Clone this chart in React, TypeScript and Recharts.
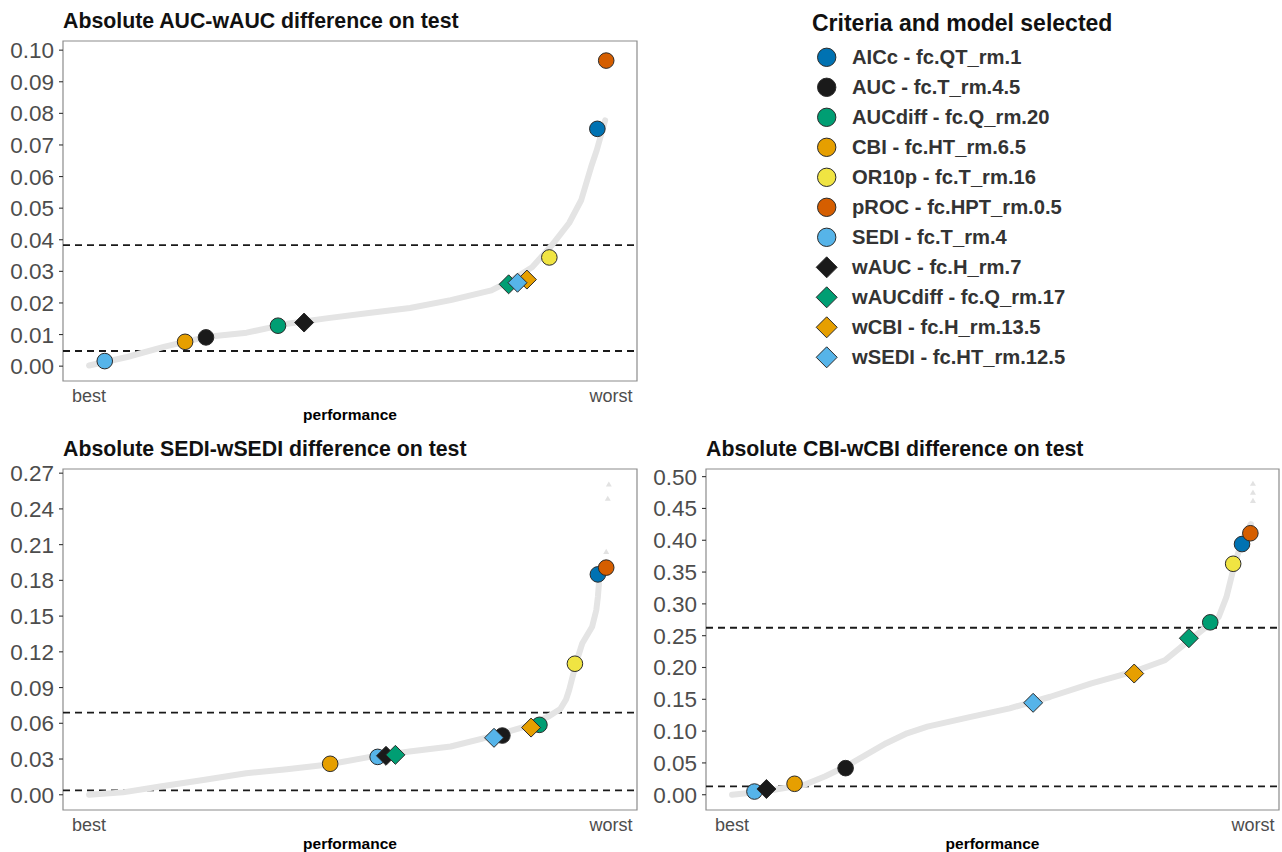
import { ScatterChart, Scatter, XAxis, YAxis, ReferenceLine, ReferenceArea } from 'recharts';

const FONT = '"Liberation Sans", Arial, Helvetica, sans-serif';

// legend order = drawing order
const criteriaLabels = [
  'AICc - fc.QT_rm.1',
  'AUC - fc.T_rm.4.5',
  'AUCdiff - fc.Q_rm.20',
  'CBI - fc.HT_rm.6.5',
  'OR10p - fc.T_rm.16',
  'pROC - fc.HPT_rm.0.5',
  'SEDI - fc.T_rm.4',
  'wAUC - fc.H_rm.7',
  'wAUCdiff - fc.Q_rm.17',
  'wCBI - fc.H_rm.13.5',
  'wSEDI - fc.HT_rm.12.5',
];
const criteriaColors = ['#0072B2', '#1a1a1a', '#009E73', '#E69F00', '#F0E442', '#D55E00', '#56B4E9', '#1a1a1a', '#009E73', '#E69F00', '#56B4E9'];
const criteriaShapes = ['circle', 'circle', 'circle', 'circle', 'circle', 'circle', 'circle', 'diamond', 'diamond', 'diamond', 'diamond'];

// AUC-wAUC panel
const aucRanks = [97.4, 22.4, 36.2, 18.4, 88.2, 99.1, 3.0, 41.2, 80.4, 83.9, 82.1];
const aucValues = [0.0751, 0.0091, 0.0128, 0.0077, 0.0344, 0.0967, 0.0016, 0.0138, 0.0259, 0.0274, 0.0264];
const aucCurveRanks = [0, 7.3, 14.5, 22.3, 30.2, 38.0, 45.8, 53.6, 61.5, 69.3, 77.1, 80.9, 84.9, 88.7, 92.0, 94.3, 96.2, 97.3, 98.9];
const aucCurveValues = [0.0002, 0.0029, 0.0062, 0.0092, 0.0106, 0.0134, 0.0152, 0.0168, 0.0184, 0.0209, 0.024, 0.0272, 0.0313, 0.0383, 0.0453, 0.0525, 0.063, 0.0684, 0.0778];
const aucTicks = [0, 0.01, 0.02, 0.03, 0.04, 0.05, 0.06, 0.07, 0.08, 0.09, 0.1];
const aucThresholds = [0.0048, 0.0383];

// SEDI-wSEDI panel
const sediRanks = [97.5, 79.2, 86.3, 46.2, 93.1, 99.1, 55.3, 56.9, 58.7, 84.7, 77.6];
const sediValues = [0.185, 0.0497, 0.0587, 0.026, 0.11, 0.1907, 0.0318, 0.0327, 0.0335, 0.0564, 0.0478];
const sediCurveRanks = [0, 6.5, 13.6, 22.2, 30.1, 37.9, 45.5, 53.6, 61.4, 69.3, 77.1, 83.4, 88.0, 90.3, 91.4, 92.0, 92.7, 93.5, 94.5, 96.4, 97.2, 97.5, 97.7];
const sediCurveValues = [0.0, 0.002, 0.007, 0.0126, 0.018, 0.0215, 0.0252, 0.0316, 0.0363, 0.0405, 0.049, 0.057, 0.0656, 0.072, 0.08, 0.088, 0.1, 0.113, 0.127, 0.141, 0.155, 0.166, 0.177];
const sediTailRanks = [99.1, 99.4, 99.6];
const sediTailValues = [0.204, 0.2486, 0.2605];
const sediTicks = [0, 0.03, 0.06, 0.09, 0.12, 0.15, 0.18, 0.21, 0.24, 0.27];
const sediThresholds = [0.0036, 0.069];

// CBI-wCBI panel
const cbiRanks = [97.9, 21.8, 91.8, 12.0, 96.2, 99.5, 4.3, 6.6, 87.7, 77.2, 57.8];
const cbiValues = [0.394, 0.0418, 0.271, 0.0172, 0.363, 0.411, 0.005, 0.009, 0.246, 0.1905, 0.1445];
const cbiCurveRanks = [0, 6.0, 13.9, 17.8, 21.8, 25.7, 29.6, 33.6, 37.5, 45.4, 53.3, 61.1, 69.0, 76.9, 83.1, 87.0, 91.0, 93.4, 94.9, 95.7, 96.4, 98.1, 99.6];
const cbiCurveValues = [0.0, 0.005, 0.0157, 0.0287, 0.0443, 0.0626, 0.081, 0.0966, 0.107, 0.1217, 0.1358, 0.154, 0.175, 0.193, 0.2114, 0.2376, 0.2636, 0.279, 0.3105, 0.3367, 0.36, 0.4045, 0.4255];
const cbiTailRanks = [100, 100, 100];
const cbiTailValues = [0.462, 0.475, 0.489];
const cbiTicks = [0, 0.05, 0.1, 0.15, 0.2, 0.25, 0.3, 0.35, 0.4, 0.45, 0.5];
const cbiThresholds = [0.013, 0.2625];

const zip = (rs: number[], vs: number[]) => rs.map((r, i) => ({ r, v: vs[i], i }));

function Marker(props: any) {
  const { cx, cy, payload } = props;
  if (cx == null || cy == null) return <g />;
  const i = payload.i;
  const fill = criteriaColors[i];
  if (criteriaShapes[i] === 'diamond') {
    const d = 9.5;
    return (
      <polygon
        points={`${cx},${cy - d} ${cx + d},${cy} ${cx},${cy + d} ${cx - d},${cy}`}
        fill={fill}
        stroke="#2b2b2b"
        strokeWidth={1}
      />
    );
  }
  return <circle cx={cx} cy={cy} r={7.8} fill={fill} stroke="#2b2b2b" strokeWidth={1} />;
}

function Tri(props: any) {
  const { cx, cy } = props;
  if (cx == null || cy == null) return <g />;
  const s = 3;
  return <polygon points={`${cx},${cy - s} ${cx + s},${cy + s * 0.7} ${cx - s},${cy + s * 0.7}`} fill="#e2e2e2" />;
}

function Nothing() {
  return <g />;
}

interface PanelProps {
  width: number;
  height: number;
  margin: { top: number; right: number; left: number; bottom: number };
  yWidth: number;
  xHeight: number;
  labelOffset: number;
  domain: [number, number];
  ticks: number[];
  curve: { r: number; v: number }[];
  tail: { r: number; v: number }[];
  points: { r: number; v: number; i: number }[];
  thresholds: number[];
}

function Panel({ width, height, margin, yWidth, xHeight, labelOffset, domain, ticks, curve, tail, points, thresholds }: PanelProps) {
  return (
    <ScatterChart width={width} height={height} margin={margin}>
      <XAxis
        type="number"
        dataKey="r"
        domain={[-5, 105]}
        ticks={[0, 100]}
        interval={0}
        allowDataOverflow
        tickFormatter={(v) => (v === 0 ? 'best' : 'worst')}
        axisLine={false}
        tickLine={false}
        tickSize={6}
        tickMargin={2}
        height={xHeight}
        tick={{ fill: '#4d4d4d', fontSize: 18, fontFamily: FONT }}
        label={{
          value: 'performance',
          position: 'insideBottom',
          offset: labelOffset,
          fill: '#000',
          fontSize: 15.5,
          fontWeight: 'bold',
          fontFamily: FONT,
        }}
      />
      <YAxis
        type="number"
        dataKey="v"
        domain={domain}
        ticks={ticks}
        interval={0}
        allowDataOverflow
        width={yWidth}
        axisLine={false}
        tickLine={{ stroke: '#333', strokeWidth: 1.1 }}
        tickSize={4}
        tickMargin={5}
        tickFormatter={(v) => v.toFixed(2)}
        tick={{ fill: '#4d4d4d', fontSize: 22.5, fontFamily: FONT }}
      />
      <ReferenceArea x1={-5} x2={105} y1={domain[0]} y2={domain[1]} fill="none" stroke="#8c8c8c" strokeWidth={1.2} />
      <Scatter
        data={curve}
        line={{ stroke: '#e4e4e4', strokeWidth: 6, strokeLinecap: 'round', strokeLinejoin: 'round' }}
        lineType="joint"
        shape={Nothing}
        isAnimationActive={false}
      />
      <Scatter data={tail} shape={Tri} isAnimationActive={false} />
      {thresholds.map((t) => (
        <ReferenceLine key={t} y={t} stroke="#1a1a1a" strokeWidth={1.8} strokeDasharray="7 5" />
      ))}
      <Scatter data={points} shape={Marker} isAnimationActive={false} />
    </ScatterChart>
  );
}

const titleStyle = { fontFamily: FONT, fontSize: 21.3, fontWeight: 'bold' as const, fill: '#111' };

export default function App() {
  return (
    <div style={{ position: 'absolute', left: 0, top: 0, width: 1282, height: 852, background: '#fff' }}>
      <svg width={1282} height={852} style={{ position: 'absolute', left: 0, top: 0 }}>
        <text x={63} y={28} {...titleStyle}>Absolute AUC-wAUC difference on test</text>
        <text x={63} y={456} {...titleStyle}>Absolute SEDI-wSEDI difference on test</text>
        <text x={706} y={456} {...titleStyle}>Absolute CBI-wCBI difference on test</text>
        <text x={812} y={30.5} fontFamily={FONT} fontSize={23} fontWeight="bold" fill="#111">
          Criteria and model selected
        </text>
        {criteriaLabels.map((label, i) => {
          const cy = 57.3 + 30 * i;
          const cx = 826.7;
          const fill = criteriaColors[i];
          return (
            <g key={label}>
              {criteriaShapes[i] === 'diamond' ? (
                <polygon
                  points={`${cx},${cy - 10.5} ${cx + 10.5},${cy} ${cx},${cy + 10.5} ${cx - 10.5},${cy}`}
                  fill={fill}
                  stroke="#2b2b2b"
                  strokeWidth={1}
                />
              ) : (
                <circle cx={cx} cy={cy} r={9.2} fill={fill} stroke="#2b2b2b" strokeWidth={1} />
              )}
              <text x={852} y={cy + 7} fontFamily={FONT} fontSize={20.2} fontWeight="bold" fill="#333">
                {label}
              </text>
            </g>
          );
        })}
      </svg>
      <div style={{ position: 'absolute', left: 0, top: 0 }}>
        <Panel
          width={645}
          height={430}
          margin={{ top: 41, right: 8, left: 8, bottom: 0 }}
          yWidth={55}
          xHeight={49}
          labelOffset={10}
          domain={[-0.0047, 0.1029]}
          ticks={aucTicks}
          curve={zip(aucCurveRanks, aucCurveValues)}
          tail={[]}
          points={zip(aucRanks, aucValues)}
          thresholds={aucThresholds}
        />
      </div>
      <div style={{ position: 'absolute', left: 0, top: 430 }}>
        <Panel
          width={645}
          height={422}
          margin={{ top: 39, right: 8, left: 8, bottom: 0 }}
          yWidth={55}
          xHeight={42}
          labelOffset={3}
          domain={[-0.0128, 0.2735]}
          ticks={sediTicks}
          curve={zip(sediCurveRanks, sediCurveValues)}
          tail={zip(sediTailRanks, sediTailValues)}
          points={zip(sediRanks, sediValues)}
          thresholds={sediThresholds}
        />
      </div>
      <div style={{ position: 'absolute', left: 640, top: 430 }}>
        <Panel
          width={642}
          height={422}
          margin={{ top: 39, right: 3, left: 8, bottom: 0 }}
          yWidth={58}
          xHeight={42}
          labelOffset={3}
          domain={[-0.024, 0.512]}
          ticks={cbiTicks}
          curve={zip(cbiCurveRanks, cbiCurveValues)}
          tail={zip(cbiTailRanks, cbiTailValues)}
          points={zip(cbiRanks, cbiValues)}
          thresholds={cbiThresholds}
        />
      </div>
    </div>
  );
}
